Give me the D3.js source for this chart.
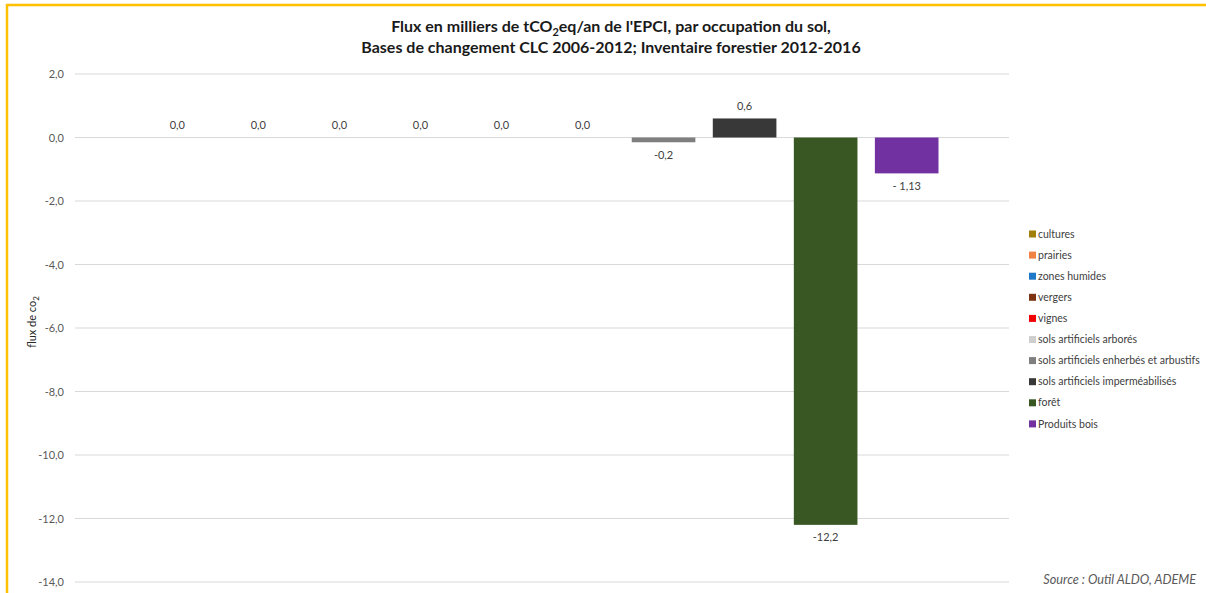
<!DOCTYPE html>
<html>
<head>
<meta charset="utf-8">
<script src="https://cdn.jsdelivr.net/npm/d3@7"></script>
<style>
  body { margin: 0; background: #fff; }
  svg { display: block; }
  text { font-family: Lato, "Open Sans", sans-serif; }
</style>
</head>
<body>
<div id="chart"></div>
<script>
const width = 1206;
const height = 593;

// data
const categories = ['cultures', 'prairies', 'zones humides', 'vergers', 'vignes',
  'sols artificiels arborés', 'sols artificiels enherbés et arbustifs',
  'sols artificiels imperméabilisés', 'forêt', 'Produits bois'];
const values = [0, 0, 0, 0, 0, 0, -0.15, 0.6, -12.2, -1.13];
const valueLabels = ['0,0', '0,0', '0,0', '0,0', '0,0', '0,0', '-0,2', '0,6', '-12,2', '- 1,13'];
const colors = ['#A07F0A', '#F08344', '#1F78C8', '#7E3413', '#F00000',
  '#CFCFCF', '#7F7F7F', '#383838', '#385723', '#7131A1'];
const yTicks = [2, 0, -2, -4, -6, -8, -10, -12, -14];

const svg = d3.select('#chart')
  .append('svg')
  .attr('width', width)
  .attr('height', height);

// orange frame (top + left)
svg.append('line')
  .attr('x1', 6).attr('x2', width).attr('y1', 5).attr('y2', 5)
  .attr('stroke', '#FFC000').attr('stroke-width', 2.5);
svg.append('line')
  .attr('x1', 7).attr('x2', 7).attr('y1', 4).attr('y2', height)
  .attr('stroke', '#FFC000').attr('stroke-width', 2.5);

const x = d3.scaleBand()
  .domain(categories)
  .range([75, 1009])
  .paddingInner(0.215)
  .paddingOuter(0.87);

const y = d3.scaleLinear()
  .domain([-14, 2])
  .range([582, 74]);

// gridlines
svg.append('g')
  .selectAll('line')
  .data(yTicks)
  .enter()
  .append('line')
  .attr('x1', 75)
  .attr('x2', 1009)
  .attr('y1', d => y(d))
  .attr('y2', d => y(d))
  .attr('stroke', '#D9D9D9')
  .attr('stroke-width', 1);

const yAxis = d3.axisLeft(y)
  .tickValues(yTicks)
  .tickSize(0)
  .tickPadding(0)
  .tickFormat(d => d3.format('.1f')(d).replace('.', ',').replace('−', '-'));

svg.append('g')
  .attr('transform', 'translate(64,0)')
  .call(yAxis)
  .call(g => g.select('.domain').remove())
  .selectAll('text')
  .attr('fill', '#595959')
  .style('font-size', '11px');

// bars
svg.append('g')
  .selectAll('rect')
  .data(categories)
  .enter()
  .append('rect')
  .attr('x', d => x(d))
  .attr('width', x.bandwidth())
  .attr('y', (d, i) => y(Math.max(0, values[i])))
  .attr('height', (d, i) => Math.abs(y(values[i]) - y(0)))
  .attr('fill', (d, i) => colors[i]);

// value labels
svg.append('g')
  .selectAll('text')
  .data(categories)
  .enter()
  .append('text')
  .attr('x', d => x(d) + x.bandwidth() / 2)
  .attr('y', (d, i) => values[i] < 0 ? y(values[i]) + 12.5 : y(values[i]) - 12.5)
  .attr('dy', '0.35em')
  .attr('text-anchor', 'middle')
  .attr('fill', '#404040')
  .style('font-size', '11px')
  .text((d, i) => valueLabels[i]);

// title
const title = svg.append('text')
  .attr('x', 611)
  .attr('y', 32)
  .attr('text-anchor', 'middle')
  .attr('fill', '#1a1a1a')
  .style('font-size', '16px')
  .style('font-weight', 'bold');
title.append('tspan').text('Flux en milliers de tCO');
title.append('tspan').attr('font-size', '11px').attr('dy', 4).text('2');
title.append('tspan').attr('dy', -4).text("eq/an de l'EPCI, par occupation du sol,");
svg.append('text')
  .attr('x', 611)
  .attr('y', 53)
  .attr('text-anchor', 'middle')
  .attr('fill', '#1a1a1a')
  .style('font-size', '16px')
  .style('font-weight', 'bold')
  .text('Bases de changement CLC 2006-2012; Inventaire forestier 2012-2016');

// y axis title
const yTitle = svg.append('text')
  .attr('transform', 'translate(36,322) rotate(-90)')
  .attr('text-anchor', 'middle')
  .attr('fill', '#262626')
  .style('font-size', '11px');
yTitle.append('tspan').text('flux de co');
yTitle.append('tspan').attr('font-size', '8px').attr('dy', 3).text('2');

// legend
const legend = svg.append('g')
  .attr('transform', 'translate(1029,234)');
const rows = legend.selectAll('g')
  .data(categories)
  .enter()
  .append('g')
  .attr('transform', (d, i) => `translate(0,${i * 21.1})`);
rows.append('rect')
  .attr('x', 0)
  .attr('y', -3.5)
  .attr('width', 7)
  .attr('height', 7)
  .attr('fill', (d, i) => colors[i]);
rows.append('text')
  .attr('x', 9)
  .attr('dy', '0.35em')
  .attr('fill', '#404040')
  .style('font-size', '10.5px')
  .text(d => d);

// source
svg.append('text')
  .attr('x', 1196)
  .attr('y', 584)
  .attr('text-anchor', 'end')
  .attr('fill', '#595959')
  .style('font-size', '12.7px')
  .style('font-style', 'italic')
  .text('Source : Outil ALDO, ADEME');
</script>
</body>
</html>
